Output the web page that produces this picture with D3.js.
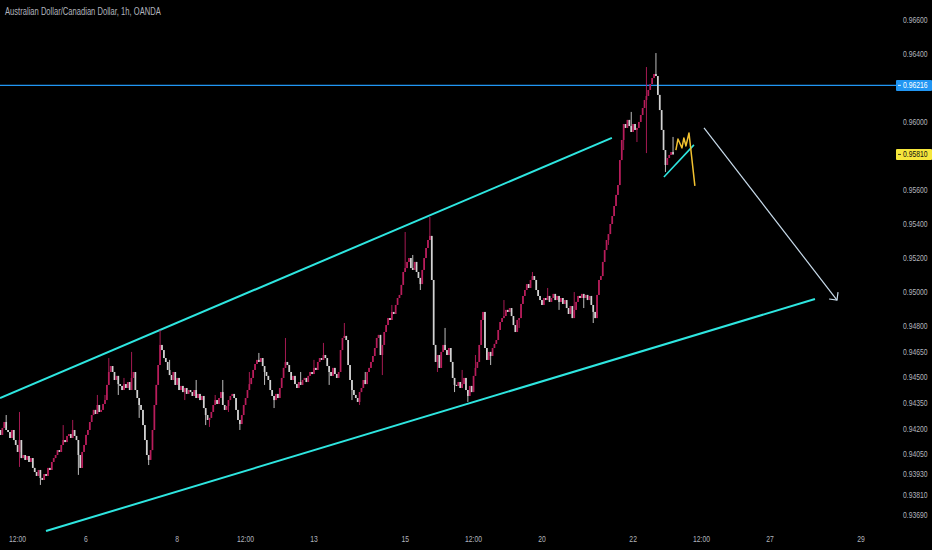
<!DOCTYPE html>
<html>
<head>
<meta charset="utf-8">
<script src="https://cdn.jsdelivr.net/npm/d3@7"></script>
<style>
  html, body { margin: 0; padding: 0; background: #000; }
  svg { display: block; }
</style>
</head>
<body>
<div id="chart"></div>
<script>
// AUD/CAD 1h, hourly closes (hour 0 = the "6" day, 00:00)
const firstHour = -45;
const firstOpen = 0.94190;

const closesWeek1 = [
  0.94161, 0.94202, 0.94237, 0.94190, 0.94178, 0.94143, 0.94190, 0.94131, 0.94102, 0.94061,
  0.94131, 0.94025, 0.94043, 0.94014, 0.94037, 0.94002, 0.94025, 0.93967, 0.93943, 0.93920,
  0.93955, 0.93908, 0.93896, 0.93931, 0.93920, 0.93967, 0.93955, 0.94002, 0.94025, 0.94043,
  0.94072, 0.94061, 0.94102, 0.94131, 0.94119, 0.94155, 0.94166, 0.94143, 0.94190, 0.94155,
  0.94131, 0.94043, 0.93967, 0.94061, 0.94102, 0.94161, 0.94190, 0.94237, 0.94278, 0.94308,
  0.94284, 0.94337, 0.94296, 0.94308, 0.94343, 0.94366, 0.94455, 0.94531, 0.94566, 0.94531,
  0.94484, 0.94508, 0.94460, 0.94449, 0.94425, 0.94460, 0.94437, 0.94472, 0.94425, 0.94496,
  0.94531, 0.94425, 0.94378, 0.94337, 0.94308, 0.94219, 0.94131, 0.94043, 0.94014, 0.94072,
  0.94190, 0.94337, 0.94455, 0.94572, 0.94690, 0.94660, 0.94613, 0.94590, 0.94543, 0.94513,
  0.94484, 0.94531, 0.94455, 0.94496, 0.94425
];
const closesWeek2 = [
  0.94449, 0.94413, 0.94437, 0.94402, 0.94425, 0.94413, 0.94390, 0.94425, 0.94378, 0.94402,
  0.94366, 0.94390, 0.94319, 0.94278, 0.94249, 0.94261, 0.94296, 0.94337, 0.94366, 0.94343,
  0.94378, 0.94413, 0.94337, 0.94308, 0.94331, 0.94366, 0.94390, 0.94402, 0.94378, 0.94308,
  0.94249, 0.94225, 0.94278, 0.94337, 0.94378, 0.94425, 0.94460, 0.94496, 0.94543, 0.94578,
  0.94602, 0.94590, 0.94613, 0.94566, 0.94531, 0.94508, 0.94484, 0.94425, 0.94390, 0.94366,
  0.94402, 0.94378, 0.94437, 0.94496, 0.94555, 0.94590, 0.94572, 0.94531, 0.94484, 0.94508,
  0.94460, 0.94437, 0.94472, 0.94455, 0.94484, 0.94496, 0.94472, 0.94508, 0.94531, 0.94519,
  0.94555, 0.94543, 0.94590, 0.94613, 0.94602, 0.94631, 0.94613, 0.94566, 0.94531, 0.94508,
  0.94555, 0.94519, 0.94496, 0.94531, 0.94660, 0.94731, 0.94743, 0.94719
];
const closesWeek3 = [
  0.94572, 0.94484, 0.94425, 0.94396, 0.94378, 0.94355, 0.94413, 0.94437, 0.94484, 0.94460,
  0.94531, 0.94555, 0.94590, 0.94625, 0.94672, 0.94731, 0.94749, 0.94631, 0.94690, 0.94766,
  0.94807, 0.94848, 0.94837, 0.94884, 0.94872, 0.94925, 0.94966, 0.94984, 0.95043, 0.95119,
  0.95142, 0.95178, 0.95201, 0.95142, 0.95131, 0.95178, 0.95119, 0.95084, 0.95048, 0.95131,
  0.95201, 0.95260, 0.95307, 0.95331, 0.95072, 0.94690, 0.94590, 0.94631, 0.94555, 0.94649,
  0.94690, 0.94660, 0.94631, 0.94672, 0.94590, 0.94496, 0.94455, 0.94449, 0.94472, 0.94437,
  0.94460, 0.94496, 0.94425, 0.94390, 0.94449, 0.94413, 0.94508, 0.94555, 0.94590, 0.94690,
  0.94837, 0.94884, 0.94672, 0.94602, 0.94649, 0.94625, 0.94672, 0.94696, 0.94719, 0.94778,
  0.94825, 0.94848, 0.94860, 0.94896, 0.94884, 0.94907, 0.94860, 0.94807, 0.94766, 0.94837
];
const closesWeek4 = [
  0.94848, 0.94931, 0.94978, 0.95013, 0.95048, 0.95025, 0.95072, 0.95095, 0.95072, 0.95013,
  0.94978, 0.94954, 0.94925, 0.94966, 0.94954, 0.94978, 0.94943, 0.94966, 0.94990, 0.94954,
  0.94978, 0.94943, 0.94966, 0.94931, 0.94954, 0.94907, 0.94872, 0.94919, 0.94848, 0.94896,
  0.94943, 0.94978, 0.94966, 0.94990, 0.94966, 0.94984, 0.94954, 0.94978, 0.94925, 0.94884,
  0.94848, 0.94984, 0.95072, 0.95095, 0.95178, 0.95248, 0.95307, 0.95342, 0.95401, 0.95448,
  0.95507, 0.95572, 0.95630, 0.95777, 0.95895, 0.95989, 0.95966, 0.96013, 0.95977, 0.95942,
  0.95989, 0.95954, 0.95966, 0.96001, 0.96042, 0.96083, 0.96130, 0.96154, 0.96189, 0.96224,
  0.96259, 0.96283, 0.96271, 0.96160, 0.96071, 0.95954, 0.95836, 0.95748, 0.95789, 0.95807,
  0.95824, 0.95810
];

// visible wicks: [candle number, high, low] (null = body end)
const wickExtremes = [
  [3, 0.94278, null], [10, 0.94296, 0.93973], [21, null, 0.93867], [33, 0.94219, null],
  [38, 0.94249, null], [41, null, 0.93926], [51, 0.94396, null], [55, 0.94396, null],
  [57, 0.94613, null], [62, null, 0.94396], [65, 0.94496, null], [69, 0.94649, null],
  [73, null, 0.94261], [78, null, 0.93984], [84, 0.94778, null], [89, 0.94602, null],
  [97, null, 0.94366], [103, 0.94484, null], [108, null, 0.94219], [110, null, 0.94208],
  [113, 0.94396, null], [117, 0.94484, null], [120, null, 0.94296], [126, null, 0.94190],
  [131, 0.94531, null], [136, 0.94643, null], [139, null, 0.94455], [144, null, 0.94319],
  [150, 0.94731, null], [158, 0.94531, null], [165, 0.94602, null], [170, 0.94702, null],
  [173, null, 0.94455], [181, 0.94819, null], [185, null, 0.94366], [189, null, 0.94337],
  [192, 0.94531, null], [201, null, 0.94513], [206, 0.94925, null], [213, 0.95354, null],
  [217, 0.95219, null], [221, null, 0.95013], [226, 0.95442, null], [230, null, 0.94531],
  [234, 0.94790, null], [239, null, 0.94413], [243, 0.94543, null], [246, null, 0.94355],
  [250, 0.94631, null], [258, null, 0.94572], [265, 0.94954, null], [273, null, 0.94790],
  [280, 0.95119, null], [288, 0.95025, null], [294, null, 0.94896], [302, 0.95001, null],
  [307, null, 0.94907], [312, null, 0.94819], [320, null, 0.95278], [328, null, 0.95836],
  [332, 0.96060, null], [335, null, 0.95883], [340, 0.96324, 0.95818], [345, 0.96406, null],
  [349, 0.95895, null], [350, null, 0.95707], [354, 0.95913, null]
];

// drawings, as [hour, price]
const upperChannel = [[-45.26, 0.94378], [276.8, 0.95907]];
const lowerChannel = [[-21.05, 0.93596], [383.7, 0.94960]];
const wedgeEdge = [[304.2, 0.95677], [320.0, 0.95866]];
const arrowPath = [[325.3, 0.95966], [395.3, 0.94954]];
const scribble = [[310.5, 0.95836], [311.6, 0.95901], [313.7, 0.95848], [314.7, 0.95907],
  [315.8, 0.95860], [317.4, 0.95936], [320.5, 0.95625]];
const resistanceLevel = 0.96216;

const priceTicks = [0.96600, 0.96400, 0.96000, 0.95600, 0.95400, 0.95200, 0.95000, 0.94800,
  0.94650, 0.94500, 0.94350, 0.94200, 0.94050, 0.93930, 0.93810, 0.93690];
const timeTicks = [-36, 0, 48, 84, 120, 168, 204, 240, 288, 324, 360, 408];
const timeLabels = ["12:00", "6", "8", "12:00", "13", "15", "12:00", "20", "22", "12:00", "27", "29"];
const title = "Australian Dollar/Canadian Dollar, 1h, OANDA";

const W = 932, H = 550, plotW = 890;
const upColour = "#b81d5b", downColour = "#d2d2d2", textColour = "#b2b5be";

const closes = [].concat(closesWeek1, closesWeek2, closesWeek3, closesWeek4);
const extremes = new Map(wickExtremes.map(d => [d[0], d]));
const candles = closes.map((c, i) => {
  const o = i === 0 ? firstOpen : closes[i - 1];
  const e = extremes.get(i);
  return {
    t: firstHour + i, o: o, c: c,
    h: Math.max(o, c, e && e[1] !== null ? e[1] : 0),
    l: Math.min(o, c, e && e[2] !== null ? e[2] : 1)
  };
});

const x = d3.scaleLinear().domain([-45.26, 423.2]).range([0, plotW]);
const y = d3.scaleLinear().domain([0.96718, 0.934845]).range([0, H]);

const svg = d3.select("#chart").append("svg")
  .attr("width", W).attr("height", H)
  .style("font-family", "'Liberation Sans', Arial, sans-serif");

svg.append("rect").attr("width", W).attr("height", H).attr("fill", "#000");

const plot = svg.append("g");

// channel lines
const line = d3.line().x(d => x(d[0])).y(d => y(d[1]));
[upperChannel, lowerChannel].forEach(seg => {
  plot.append("path").attr("d", line(seg))
    .attr("stroke", "#2ee6e0").attr("stroke-width", 2).attr("fill", "none");
});

// resistance
plot.append("line")
  .attr("x1", 0).attr("x2", plotW + 6)
  .attr("y1", y(resistanceLevel)).attr("y2", y(resistanceLevel))
  .attr("stroke", "#2196f3").attr("stroke-width", 1.2);

// candles
const cg = plot.append("g");
cg.selectAll("line.wick").data(candles).enter().append("line")
  .attr("class", "wick")
  .attr("x1", d => x(d.t)).attr("x2", d => x(d.t))
  .attr("y1", d => y(d.h)).attr("y2", d => y(d.l))
  .attr("stroke", d => d.c >= d.o ? upColour : downColour)
  .attr("stroke-width", 0.9);
cg.selectAll("rect.body").data(candles).enter().append("rect")
  .attr("class", "body")
  .attr("x", d => x(d.t) - 0.85)
  .attr("width", 1.7)
  .attr("y", d => y(Math.max(d.o, d.c)))
  .attr("height", d => Math.max(0.8, Math.abs(y(d.o) - y(d.c))))
  .attr("fill", d => d.c >= d.o ? upColour : downColour);

// hand drawings
plot.append("path").attr("d", line(wedgeEdge))
  .attr("stroke", "#2ee6e0").attr("stroke-width", 1.6).attr("fill", "none");
plot.append("path").attr("d", line(scribble))
  .attr("stroke", "#f2c230").attr("stroke-width", 1.5).attr("fill", "none")
  .attr("stroke-linejoin", "round");

const arrowColour = "#c9dcec";
plot.append("path").attr("d", line(arrowPath))
  .attr("stroke", arrowColour).attr("stroke-width", 1.2).attr("fill", "none");
{
  const tip = [x(arrowPath[1][0]), y(arrowPath[1][1])];
  const tail = [x(arrowPath[0][0]), y(arrowPath[0][1])];
  const back = Math.atan2(tail[1] - tip[1], tail[0] - tip[0]);
  const head = [back - Math.PI / 4, back + Math.PI / 4].map(a => [tip[0] + 8 * Math.cos(a), tip[1] + 8 * Math.sin(a)]);
  plot.append("path")
    .attr("d", `M${head[0]}L${tip}L${head[1]}`)
    .attr("stroke", arrowColour).attr("stroke-width", 1.2).attr("fill", "none");
}

// price axis
const yAxis = svg.append("g")
  .attr("transform", `translate(${plotW + 13},0)`)
  .call(d3.axisRight(y).tickValues(priceTicks).tickSize(0).tickFormat(d3.format(".5f")));
yAxis.select(".domain").remove();
yAxis.selectAll("text")
  .attr("fill", textColour).attr("font-size", 8.5).attr("x", 0)
  .attr("transform", "scale(0.8,1)");

// price markers
const lastClose = closes[closes.length - 1];
[[resistanceLevel, "#2196f3", "#ffffff"], [lastClose, "#f5e63c", "#111111"]].forEach(m => {
  const g = svg.append("g").attr("transform", `translate(${plotW + 6},${y(m[0])})`);
  g.append("rect").attr("x", 0).attr("y", -5.5).attr("width", W - plotW - 6).attr("height", 11)
    .attr("fill", m[1]).attr("rx", 1);
  g.append("line").attr("x1", 2).attr("x2", 5).attr("y1", 0).attr("y2", 0)
    .attr("stroke", m[2]).attr("stroke-width", 0.8);
  g.append("text").attr("x", 7 / 0.8).attr("dy", "0.33em")
    .attr("transform", "scale(0.8,1)")
    .attr("font-size", 8.5).attr("fill", m[2])
    .text(d3.format(".5f")(m[0]));
});

// time axis
const xAxis = svg.append("g")
  .attr("transform", `translate(0,${H - 14})`)
  .call(d3.axisBottom(x).tickValues(timeTicks).tickSize(0)
    .tickFormat((d, i) => timeLabels[i]));
xAxis.select(".domain").remove();
xAxis.selectAll("text").attr("fill", textColour).attr("font-size", 8.5).attr("dy", "0.3em");
xAxis.selectAll(".tick").each(function (d) {
  d3.select(this).attr("transform", `translate(${x(d)},0) scale(0.8,1)`);
});

// title
svg.append("text")
  .attr("transform", "translate(5,15) scale(0.76,1)")
  .attr("font-size", 10).attr("fill", textColour)
  .text(title);
</script>
</body>
</html>
